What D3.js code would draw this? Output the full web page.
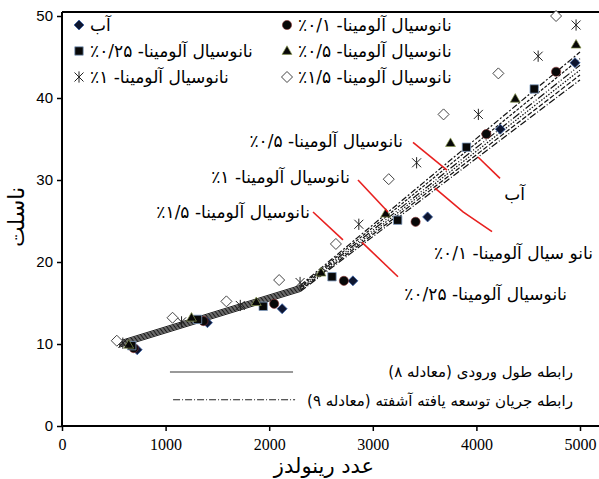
<!DOCTYPE html>
<html>
<head>
<meta charset="utf-8">
<script src="https://cdn.jsdelivr.net/npm/d3@7"></script>
<style>
  body { margin: 0; background: #fff; }
  .fa { direction: rtl; unicode-bidi: embed; font-family: "DejaVu Sans", sans-serif; }
</style>
</head>
<body>
<div id="chart"></div>
<script>
// Nusselt number vs Reynolds number

var reWater = [726, 1404, 2125, 2808, 3529, 4231, 4952];
var nuWater = [9.3, 12.6, 14.3, 17.7, 25.5, 36.2, 44.3];

var reNf01 = [692, 1365, 2048, 2721, 3413, 4096, 4769];
var nuNf01 = [9.5, 12.8, 14.9, 17.7, 24.9, 35.6, 43.2];

var reNf025 = [673, 1308, 1942, 2606, 3240, 3904, 4558];
var nuNf025 = [9.8, 13.0, 14.6, 18.2, 25.1, 34.0, 41.1];

var reNf05 = [644, 1250, 1875, 2500, 3125, 3750, 4375, 4962];
var nuNf05 = [9.9, 13.2, 15.1, 18.7, 25.9, 34.5, 39.9, 46.5];

var reNf1 = [587, 1154, 1721, 2298, 2865, 3423, 4019, 4596, 4962];
var nuNf1 = [10.1, 12.7, 14.7, 17.5, 24.6, 32.1, 38.0, 45.1, 48.9];

var reNf15 = [529, 1067, 1587, 2096, 2644, 3154, 3683, 4212, 4769];
var nuNf15 = [10.4, 13.2, 15.2, 17.8, 22.2, 30.1, 38.0, 43.0, 50.0];

// legend labels (same order as the series above)
var seriesNames = [
  "آب",
  "نانوسیال آلومینا- ۰/۱٪",
  "نانوسیال آلومینا- ۰/۲۵٪",
  "نانوسیال آلومینا- ۰/۵٪",
  "نانوسیال آلومینا- ۱٪",
  "نانوسیال آلومینا- ۱/۵٪"
];

// correlation lines: laminar (eq. 8) and turbulent (eq. 9), one per fluid
var lamRe = [550, 2300];
var lamNuStart = [9.6, 9.75, 9.9, 10.05, 10.2, 10.35];
var lamNuEnd = [16.4, 16.55, 16.7, 16.85, 17.0, 17.15];
var turbRe = [2300, 5000];
var turbNuEnd = [42.2, 42.8, 43.4, 44.0, 44.8, 45.6];

// tick values
var xTicks = [0, 1000, 2000, 3000, 4000, 5000];
var yTicks = [0, 10, 20, 30, 40, 50];

// annotation labels with red pointer lines (in Re / Nu units)
var noteText = [
  "نانوسیال آلومینا- ۰/۵٪",
  "آب",
  "نانوسیال آلومینا- ۱٪",
  "نانو سیال آلومینا- ۰/۱٪",
  "نانوسیال آلومینا- ۱/۵٪",
  "نانوسیال آلومینا- ۰/۲۵٪"
];
var noteRe = [3292, 4469, 2780, 5125, 2394, 4875];
var noteNu = [34.0, 27.6, 29.6, 20.4, 25.4, 15.4];
var pointerRe = [[3388, 3716], [4015, 4228], [2857, 3147], [3600, 3871, 4151], [2423, 2712], [2896, 3243]];
var pointerNu = [[34.6, 31.2], [32.8, 30.2], [30.0, 26.1], [29.0, 26.1, 23.7], [26.1, 22.7], [22.4, 18.2]];

// correlation legend
var corrNames = ["رابطه طول ورودی (معادله ۸)", "رابطه جریان توسعه یافته آشفته (معادله ۹)"];
var corrLegRe = [1042, 2230];
var corrLegNu = [6.6, 3.2];
var corrTextRe = 4932;
var corrTextNu = [6.0, 2.5];

var width = 599, height = 479;
var margin = { top: 16, right: 19, bottom: 53, left: 62 };

var xScale = d3.scaleLinear().domain([0, 5000]).range([margin.left, width - margin.right]);
var yScale = d3.scaleLinear().domain([0, 50]).range([height - margin.bottom, margin.top]);

var svg = d3.select("#chart")
  .append("svg")
  .attr("width", width)
  .attr("height", height);

// frame top line (legend box edge)
svg.append("line")
  .attr("x1", margin.left).attr("x2", width)
  .attr("y1", 12).attr("y2", 12)
  .attr("stroke", "#000").attr("stroke-width", 2);

// x axis
var xAxis = svg.append("g")
  .attr("transform", "translate(0," + yScale(0) + ")")
  .call(d3.axisBottom(xScale).tickValues(xTicks).tickSize(5).tickFormat(d3.format("d")));
xAxis.select(".domain").attr("d", "M" + margin.left + ",0H" + width).attr("stroke-width", 2);
xAxis.selectAll(".tick line").attr("stroke-width", 1.5);
xAxis.selectAll("text")
  .style("font-family", "Liberation Serif, serif")
  .style("font-size", "16px")
  .attr("dy", "1em")
  .attr("fill", "#000");

// y axis
var yAxis = svg.append("g")
  .attr("transform", "translate(" + margin.left + ",0)")
  .call(d3.axisLeft(yScale).tickValues(yTicks).tickSize(5));
yAxis.select(".domain").attr("d", "M0," + yScale(0) + "V12").attr("stroke-width", 2);
yAxis.selectAll(".tick line").attr("stroke-width", 1.5);
yAxis.selectAll("text")
  .style("font-family", "Liberation Sans, sans-serif")
  .style("font-size", "15px")
  .attr("x", -9)
  .attr("fill", "#000");

// axis titles
svg.append("text")
  .attr("class", "fa")
  .attr("x", (xScale(0) + xScale(5000)) / 2 + 3)
  .attr("y", height - 6)
  .attr("text-anchor", "middle")
  .style("font-size", "21px")
  .text("عدد رینولدز");

svg.append("text")
  .attr("class", "fa")
  .attr("transform", "translate(24," + yScale(25.5) + ") rotate(-90)")
  .attr("text-anchor", "middle")
  .style("font-size", "22px")
  .text("ناسلت");

// correlation lines
var lineGen = d3.line()
  .x(function(d) { return xScale(d[0]); })
  .y(function(d) { return yScale(d[1]); });

var turbDash = ["7,2,1,2", "5,2", "1.5,1.5", "8,2,1,2,1,2", "3,1.5", "6,2,2,2"];

lamNuStart.forEach(function(n0, i) {
  svg.append("path")
    .datum([[lamRe[0], n0], [lamRe[1], lamNuEnd[i]]])
    .attr("d", lineGen)
    .attr("fill", "none")
    .attr("stroke", "#000")
    .attr("stroke-width", 0.9);
  svg.append("path")
    .datum([[turbRe[0], lamNuEnd[i]], [turbRe[1], turbNuEnd[i]]])
    .attr("d", lineGen)
    .attr("fill", "none")
    .attr("stroke", "#111")
    .attr("stroke-width", 1.2)
    .attr("stroke-dasharray", turbDash[i]);
});

// markers
function asteriskPath(r) {
  return "M" + (-r) + "," + (-r) + "L" + r + "," + r +
    "M" + (-r) + "," + r + "L" + r + "," + (-r) +
    "M0," + (-r * 1.25) + "L0," + (r * 1.25);
}
function diamondPath(r) {
  return "M0," + (-r) + "L" + r + ",0L0," + r + "L" + (-r) + ",0Z";
}
function trianglePath(r) {
  return "M0," + (-r) + "L" + (r * 0.95) + "," + (r * 0.65) + "L" + (-r * 0.95) + "," + (r * 0.65) + "Z";
}
function squarePath(r) {
  return "M" + (-r) + "," + (-r) + "H" + r + "V" + r + "H" + (-r) + "Z";
}
function circlePath(r) {
  return "M" + r + ",0A" + r + "," + r + " 0 1,1 " + (-r) + ",0A" + r + "," + r + " 0 1,1 " + r + ",0Z";
}

var markerStyles = [
  { path: diamondPath(5), fill: "#0e1630", stroke: "#3a62a8", sw: 0.8 },
  { path: circlePath(4.6), fill: "#080808", stroke: "#8a3030", sw: 0.6 },
  { path: squarePath(4.2), fill: "#080808", stroke: "#7f9cc0", sw: 0.8 },
  { path: trianglePath(5.2), fill: "#080808", stroke: "#8a9a50", sw: 0.7 },
  { path: asteriskPath(4.5), fill: "none", stroke: "#222", sw: 1 },
  { path: diamondPath(5.5), fill: "#fff", stroke: "#444", sw: 1 }
];

var seriesRe = [reWater, reNf01, reNf025, reNf05, reNf1, reNf15];
var seriesNu = [nuWater, nuNf01, nuNf025, nuNf05, nuNf1, nuNf15];

seriesRe.forEach(function(res, i) {
  var st = markerStyles[i];
  svg.append("g")
    .selectAll("path")
    .data(res.map(function(r, j) { return [r, seriesNu[i][j]]; }))
    .enter()
    .append("path")
    .attr("d", st.path)
    .attr("transform", function(d) { return "translate(" + xScale(d[0]) + "," + yScale(d[1]) + ")"; })
    .attr("fill", st.fill)
    .attr("stroke", st.stroke)
    .attr("stroke-width", st.sw);
});

// red pointer lines and labels
pointerRe.forEach(function(res, i) {
  svg.append("path")
    .datum(res.map(function(r, j) { return [r, pointerNu[i][j]]; }))
    .attr("d", lineGen)
    .attr("fill", "none")
    .attr("stroke", "#e8201f")
    .attr("stroke-width", 1.6);
});

noteText.forEach(function(t, i) {
  svg.append("text")
    .attr("class", "fa")
    .attr("x", xScale(noteRe[i]))
    .attr("y", yScale(noteNu[i]))
    .attr("text-anchor", "start")
    .style("font-size", "17px")
    .text(t);
});

// series legend (two columns, three rows)
var legCol = [79, 287];
var legRow = [25, 51, 77];
var legOrder = [[0, 0], [1, 0], [0, 1], [1, 1], [0, 2], [1, 2]];
legOrder.forEach(function(pos, i) {
  var st = markerStyles[i];
  var cx = legCol[pos[0]], cy = legRow[pos[1]];
  svg.append("path")
    .attr("d", st.path)
    .attr("transform", "translate(" + cx + "," + cy + ")")
    .attr("fill", st.fill)
    .attr("stroke", st.stroke)
    .attr("stroke-width", st.sw);
  svg.append("text")
    .attr("class", "fa")
    .attr("x", cx + 11)
    .attr("y", cy + 6)
    .attr("text-anchor", "end")
    .style("font-size", "17px")
    .text(seriesNames[i]);
});

// correlation legend
svg.append("line")
  .attr("x1", xScale(corrLegRe[0])).attr("x2", xScale(corrLegRe[1]))
  .attr("y1", yScale(corrLegNu[0])).attr("y2", yScale(corrLegNu[0]))
  .attr("stroke", "#999").attr("stroke-width", 2);
svg.append("line")
  .attr("x1", xScale(corrLegRe[0] + 30)).attr("x2", xScale(corrLegRe[1] + 20))
  .attr("y1", yScale(corrLegNu[1])).attr("y2", yScale(corrLegNu[1]))
  .attr("stroke", "#222").attr("stroke-width", 1.2)
  .attr("stroke-dasharray", "7,2,1,2");

corrNames.forEach(function(t, i) {
  svg.append("text")
    .attr("class", "fa")
    .attr("x", xScale(corrTextRe))
    .attr("y", yScale(corrTextNu[i]))
    .attr("text-anchor", "start")
    .style("font-size", "15px")
    .text(t);
});
</script>
</body>
</html>
